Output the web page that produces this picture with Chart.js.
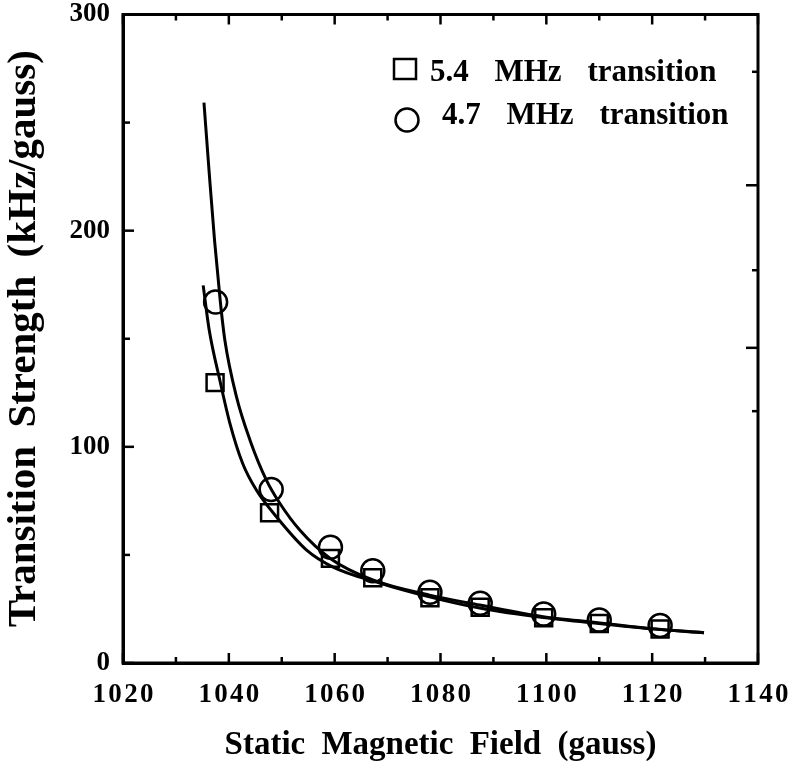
<!DOCTYPE html>
<html>
<head>
<meta charset="utf-8">
<script src="https://cdn.jsdelivr.net/npm/chart.js@4.4.0/dist/chart.umd.min.js"></script>
<style>
  html, body { margin: 0; padding: 0; background: #fff; }
  #wrap { width: 793px; height: 761px; }
</style>
</head>
<body>
<div id="wrap"><canvas id="fieldchart" width="793" height="761"></canvas></div>
<script>
// values
var seriesLabels = ["5.4 MHz transition", "4.7 MHz transition"];

var field54 = [1037.4, 1047.7, 1059.2, 1067.2, 1078.0, 1087.5, 1099.5, 1110.0, 1121.5];
var strength54 = [129.7, 69.5, 48.4, 39.4, 30.2, 25.8, 20.9, 18.3, 15.7];

var field47 = [1037.5, 1048.0, 1059.2, 1067.2, 1078.0, 1087.5, 1099.5, 1110.0, 1121.5];
var strength47 = [167.0, 80.3, 53.5, 42.7, 32.7, 27.6, 22.7, 19.9, 17.3];

// fitted curves, traced
var fitField54 = [1035.15, 1036.3, 1038.3, 1040.2, 1042.6, 1045.2, 1049.0, 1054.7, 1059.6, 1068.5, 1077.9, 1087.4, 1099.4, 1106.8, 1119.4, 1129.8];
var fitStrength54 = [174.7, 153.9, 130.8, 110.9, 92.4, 80.0, 67.6, 52.2, 44.5, 37.0, 30.6, 25.4, 21.0, 19.1, 15.9, 14.0];

var fitField47 = [1035.3, 1036.3, 1037.3, 1038.4, 1039.25, 1041.45, 1044.0, 1047.1, 1049.6, 1053.4, 1059.1, 1067.2, 1077.9, 1087.4, 1099.4, 1106.8, 1119.4, 1129.8];
var fitStrength47 = [259.2, 226.5, 195.5, 167.0, 149.3, 123.1, 103.1, 84.6, 74.0, 61.5, 48.5, 38.4, 31.4, 26.8, 21.4, 19.4, 16.0, 14.0];

var xTicks = [1020, 1040, 1060, 1080, 1100, 1120, 1140];
var xMinorTicks = [1030, 1050, 1070, 1090, 1110, 1130];
var yTicks = [0, 100, 200, 300];
var yMinorTicks = [50, 150, 250];
var rightTicks = [221, 145.8];
var rightMinorTicks = [273.5, 181.7, 116.5];

var serif = "'Liberation Serif', 'Times New Roman', serif";

function toPoints(xs, ys) {
  return xs.map(function (v, i) { return { x: v, y: ys[i] }; });
}

// wider word gaps, as in the printed figure
var spacing = {
  id: 'spacing',
  beforeDraw: function (chart) { chart.ctx.wordSpacing = '8px'; }
};

// inward ticks + box frame
var frameTicks = {
  id: 'frameTicks',
  afterDraw: function (chart) {
    var ctx = chart.ctx, a = chart.chartArea, x = chart.scales.x, y = chart.scales.y;
    ctx.save();
    ctx.strokeStyle = '#000';
    ctx.lineWidth = 3;
    ctx.strokeRect(a.left, a.top, a.right - a.left, a.bottom - a.top);
    ctx.lineWidth = 2.5;
    function seg(x1, y1, x2, y2) {
      ctx.beginPath(); ctx.moveTo(x1, y1); ctx.lineTo(x2, y2); ctx.stroke();
    }
    xTicks.concat(xMinorTicks).forEach(function (v) {
      var len = xMinorTicks.indexOf(v) >= 0 ? 6 : 10;
      var px = x.getPixelForValue(v);
      seg(px, a.bottom, px, a.bottom - len);
      seg(px, a.top, px, a.top + len);
    });
    yTicks.concat(yMinorTicks).forEach(function (v) {
      var len = yMinorTicks.indexOf(v) >= 0 ? 7 : 11;
      var py = y.getPixelForValue(v);
      seg(a.left, py, a.left + len, py);
    });
    rightTicks.concat(rightMinorTicks).forEach(function (v) {
      var len = rightMinorTicks.indexOf(v) >= 0 ? 6 : 12;
      var py = y.getPixelForValue(v);
      seg(a.right, py, a.right - len, py);
    });
    ctx.restore();
  }
};

// legend in the upper right of the plot
var boxLegend = {
  id: 'boxLegend',
  afterDraw: function (chart) {
    var ctx = chart.ctx;
    ctx.save();
    ctx.strokeStyle = '#000';
    ctx.lineWidth = 2.5;
    ctx.strokeRect(394, 59, 22, 20);
    ctx.beginPath();
    ctx.arc(407, 120, 11.5, 0, Math.PI * 2);
    ctx.stroke();
    ctx.fillStyle = '#000';
    ctx.font = 'bold 31px ' + serif;
    ctx.wordSpacing = '18px';
    ctx.textBaseline = 'alphabetic';
    ctx.fillText(seriesLabels[0], 430, 81);
    ctx.fillText(seriesLabels[1], 442, 124);
    ctx.restore();
  }
};

var ctx = document.getElementById("fieldchart").getContext("2d");
var fieldChart = new Chart(ctx, {
  type: 'scatter',
  data: {
    datasets: [
      {
        label: 'fit 5.4',
        data: toPoints(fitField54, fitStrength54),
        showLine: true,
        borderColor: '#000',
        borderWidth: 3,
        pointRadius: 0,
        cubicInterpolationMode: 'monotone'
      },
      {
        label: 'fit 4.7',
        data: toPoints(fitField47, fitStrength47),
        showLine: true,
        borderColor: '#000',
        borderWidth: 3,
        pointRadius: 0,
        cubicInterpolationMode: 'monotone'
      },
      {
        label: seriesLabels[0],
        data: toPoints(field54, strength54),
        pointStyle: 'rect',
        pointRadius: 12,
        pointBorderWidth: 2.5,
        pointBorderColor: '#000',
        pointBackgroundColor: 'rgba(0,0,0,0)'
      },
      {
        label: seriesLabels[1],
        data: toPoints(field47, strength47),
        pointStyle: 'circle',
        pointRadius: 11.5,
        pointBorderWidth: 2.5,
        pointBorderColor: '#000',
        pointBackgroundColor: 'rgba(0,0,0,0)'
      }
    ]
  },
  options: {
    responsive: false,
    animation: false,
    layout: { padding: { top: 14, right: 35, left: 0, bottom: 0 } },
    plugins: { legend: { display: false }, tooltip: { enabled: false } },
    scales: {
      x: {
        type: 'linear',
        min: 1020,
        max: 1140,
        afterBuildTicks: function (s) { s.ticks = xTicks.map(function (v) { return { value: v }; }); },
        afterFit: function (s) { s.height = 98; s.paddingLeft = 0; s.paddingRight = 0; },
        grid: { display: false, drawTicks: false },
        border: { display: true, color: '#000', width: 3 },
        ticks: {
          color: '#000',
          padding: 16,
          maxRotation: 0,
          font: { family: serif, size: 27, weight: 'bold' },
          callback: function (v) { return String(v).split('').join('\u200A'); }
        },
        title: {
          display: true,
          text: 'Static Magnetic Field (gauss)',
          color: '#000',
          padding: { top: 6, bottom: -4 },
          font: { family: serif, size: 33, weight: 'bold' }
        }
      },
      y: {
        type: 'linear',
        min: 0,
        max: 300,
        afterBuildTicks: function (s) { s.ticks = yTicks.map(function (v) { return { value: v }; }); },
        afterFit: function (s) { s.width = 123; s.paddingTop = 0; s.paddingBottom = 0; },
        grid: { display: false, drawTicks: false },
        border: { display: true, color: '#000', width: 3 },
        ticks: {
          color: '#000',
          padding: 13,
          font: { family: serif, size: 27, weight: 'bold' }
        },
        title: {
          display: true,
          text: 'Transition Strength (kHz/gauss)',
          color: '#000',
          padding: { top: 0, bottom: 0 },
          font: { family: serif, size: 41, weight: 'bold' }
        }
      }
    }
  },
  plugins: [spacing, frameTicks, boxLegend]
});
</script>
</body>
</html>
